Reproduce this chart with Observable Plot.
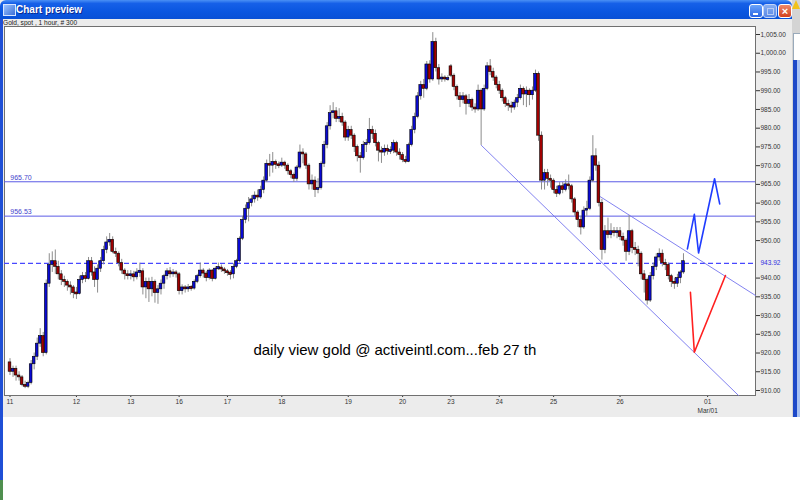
<!DOCTYPE html>
<html><head><meta charset="utf-8">
<script src="https://cdn.jsdelivr.net/npm/d3@7"></script>
<script src="https://cdn.jsdelivr.net/npm/@observablehq/plot@0.6"></script>
<style>
html,body{margin:0;padding:0;width:800px;height:500px;overflow:hidden;background:#fff;font-family:"Liberation Sans",Arial,sans-serif;}
#win{position:absolute;left:0;top:0;width:792px;height:417px;background:#ececec;}
#lframe{position:absolute;left:0;top:19px;width:3px;height:461px;background:#1f4fd6;}
#lgreen{position:absolute;left:0;top:480px;width:3px;height:20px;background:#4f8f4f;}
#title{position:absolute;left:0;top:0;width:792px;height:19px;border-radius:6px 6px 0 0;
 background:linear-gradient(#4a90f5 0%,#1660e8 18%,#0a56e0 60%,#0850d6 100%);}
#title span{position:absolute;left:16px;top:0;line-height:19px;color:#fff;font-weight:bold;font-size:10px;text-shadow:1px 1px 0 #0a2a90;}
#icon{position:absolute;left:3px;top:4px;width:11px;height:10px;background:linear-gradient(135deg,#9cc4ff,#3a6fd8);border:1px solid #d8e6ff;}
.btn{position:absolute;top:4px;width:12px;height:12px;border:1px solid #fff;border-radius:3px;}
#bmin{left:749px;background:linear-gradient(#6aa4fa,#2a64e4);}
#bmin:after{content:"";position:absolute;left:3px;top:8px;width:5px;height:2px;background:#fff;}
#bmax{left:763px;background:linear-gradient(#86aef2,#5a88e6);border-color:#c4d6fa;}
#bmax:after{content:"";position:absolute;left:3px;top:3px;width:5px;height:5px;border:1px solid #b8ccf4;}
#bclose{left:778px;background:linear-gradient(#ee8a6a,#d2401e);color:#fff;font:bold 11px "Liberation Sans",Arial,sans-serif;text-align:center;line-height:12px;}
#hdr{position:absolute;left:3px;top:19px;height:7px;line-height:7px;font-size:6.6px;color:#222;}
#desk{position:absolute;left:792px;top:0;width:8px;height:417px;background:#d4d4d4;}
#warn{position:absolute;left:792px;top:0;width:0;height:0;border-left:4px solid transparent;border-right:4px solid transparent;border-bottom:9px solid #f2c21a;}
#dbox{position:absolute;left:793px;top:33px;width:7px;height:27px;background:#fff;border:1px solid #9ab;border-right:none;}
#dbar{position:absolute;left:793px;top:60px;width:4px;height:357px;background:#1d48c8;}
#dbar2{position:absolute;left:797px;top:60px;width:3px;height:357px;background:#a9c2f2;}
#chart{position:absolute;left:0;top:0;}
</style></head><body>
<div id="win">
  <div id="title"><div id="icon"></div><span>Chart preview</span>
    <div class="btn" id="bmin"></div><div class="btn" id="bmax"></div><div class="btn" id="bclose">×</div></div>
  <div id="hdr">Gold, spot , 1 hour, # 300</div>
</div>
<div id="lframe"></div><div id="lgreen"></div>
<div id="desk"></div><div id="warn"></div><div id="dbox"></div><div id="dbar"></div><div id="dbar2"></div>
<div id="chart"></div>
<script>
// ---- Hourly gold candles (index = bar number) ----
const opens = [
917.5,915.0,915.8,914.0,913.5,911.5,911.0,912.0,917.0,919.0,
922.5,924.5,920.0,938.5,943.5,944.5,943.0,941.0,939.5,939.0,
938.0,937.5,936.0,935.8,939.5,940.5,939.8,944.5,941.5,939.5,
942.5,944.5,947.5,949.5,950.2,947.0,946.5,944.0,942.0,941.0,
940.5,941.0,940.2,941.5,941.8,937.5,939.0,937.0,939.0,936.0,
937.0,938.5,940.5,941.8,941.0,941.5,941.0,936.5,937.5,937.0,
937.5,937.2,939.0,940.5,942.0,941.2,940.0,942.0,939.8,942.5,
942.8,942.3,941.8,941.3,941.0,943.0,944.5,950.5,955.5,958.5,
960.0,961.0,962.0,961.5,963.5,966.0,970.5,970.0,971.0,970.2,
970.0,970.8,970.0,968.5,967.5,966.5,969.5,973.5,973.0,970.0,
965.0,966.0,963.5,964.0,970.5,975.5,980.5,984.0,984.5,982.5,
983.0,981.5,977.5,979.5,978.0,975.0,972.5,972.0,975.5,976.0,
979.5,978.5,976.0,974.0,973.5,974.5,973.8,974.0,976.0,973.5,
972.8,971.5,971.0,975.5,979.5,983.0,988.5,991.5,990.5,997.0,
993.0,1003.0,996.0,993.0,993.5,993.0,996.5,994.0,991.0,988.5,
987.5,988.5,986.5,987.5,985.5,985.0,990.0,985.0,990.5,996.5,
995.0,993.5,991.5,990.0,988.0,986.5,986.0,985.5,986.8,988.0,
990.5,989.0,990.0,988.8,990.0,994.5,978.0,966.0,968.0,966.5,
966.0,963.5,962.5,964.5,963.5,965.0,964.5,961.0,957.5,955.5,
953.5,958.0,958.5,966.0,972.5,970.0,960.0,947.5,952.5,951.5,
952.5,952.0,952.5,951.0,950.0,947.0,952.5,948.0,947.5,946.5,
941.0,939.5,934.0,940.5,943.0,945.5,946.5,944.0,943.5,940.5,
939.0,938.5,940.0,941.5];
const highs = [
918.5,916.5,916.5,915.0,914.0,912.5,912.5,918.0,920.0,924.0,
926.5,925.5,939.5,946.5,947.0,947.5,944.5,942.0,940.5,939.5,
939.0,938.0,937.5,940.5,941.5,941.5,945.5,945.5,943.0,943.5,
945.5,948.5,951.0,951.9,951.0,948.0,947.0,945.0,942.5,942.0,
942.0,941.8,942.5,944.0,942.5,940.0,940.0,940.2,939.5,938.0,
939.5,941.0,942.5,942.8,942.3,942.0,941.5,938.2,938.0,938.3,
938.0,939.5,941.0,944.0,942.5,941.8,942.5,942.3,943.0,944.0,
943.5,942.8,942.3,942.0,943.8,945.0,951.0,956.5,959.5,961.5,
962.0,963.0,963.5,964.5,967.0,971.5,973.0,973.5,971.5,971.0,
972.0,971.2,970.5,969.0,968.0,970.0,975.5,974.5,973.5,970.5,
967.5,967.0,966.5,971.0,976.5,981.5,986.0,986.8,985.5,985.2,
984.0,982.0,980.5,980.5,978.5,975.5,973.5,976.5,977.0,982.6,
980.5,979.5,976.5,975.0,975.5,975.5,975.0,976.8,976.5,974.5,
973.5,972.5,976.0,980.5,984.0,989.5,992.5,993.0,997.8,998.0,
1005.5,1004.0,997.0,994.5,994.0,994.0,997.0,994.5,991.5,989.5,
989.5,989.0,989.0,988.0,986.5,991.5,990.5,991.5,997.5,998.3,
996.0,994.0,992.5,990.5,988.5,987.5,987.0,987.5,989.0,991.5,
991.0,991.0,990.5,991.0,995.5,995.0,979.0,969.0,969.0,967.5,
966.5,964.5,965.5,965.5,966.2,967.5,965.0,961.5,958.0,956.5,
959.0,960.5,967.0,978.0,974.5,971.0,961.0,954.0,956.0,954.5,
953.5,953.5,953.5,952.0,950.5,956.7,953.0,949.5,948.5,947.0,
942.0,940.0,941.5,944.0,946.5,947.8,947.5,945.0,944.0,941.0,
940.0,941.0,942.0,946.5];
const lows = [
914.0,913.5,912.5,912.5,911.0,910.5,910.5,911.5,915.5,918.0,
921.5,919.0,919.5,937.5,941.5,941.0,939.5,938.0,937.5,936.5,
935.5,934.5,934.3,935.5,938.5,938.8,939.5,940.5,937.5,936.0,
941.5,943.5,946.5,948.5,946.5,945.5,943.0,941.0,939.5,939.5,
939.5,939.0,939.5,940.2,935.5,934.5,933.5,935.0,933.3,933.0,
935.5,937.0,939.5,940.0,940.2,940.0,935.5,935.5,936.0,936.2,
936.5,936.8,938.5,940.0,940.0,939.0,939.5,939.0,939.5,942.0,
941.5,941.0,940.5,939.5,939.8,942.5,944.0,950.0,954.5,955.0,
959.0,960.0,960.5,961.0,962.5,965.5,967.0,968.0,969.0,969.2,
969.5,969.0,967.5,966.5,965.5,965.8,969.0,970.5,969.0,963.5,
963.5,961.5,962.5,963.5,969.5,974.5,979.5,982.5,981.5,981.5,
980.5,976.5,976.5,977.0,973.5,971.0,968.0,971.5,973.5,975.5,
977.0,975.0,971.0,970.6,972.5,972.8,973.0,973.2,972.5,971.5,
970.8,970.5,970.8,975.0,978.5,982.5,987.5,988.0,990.0,992.0,
992.5,995.0,991.5,992.2,992.3,992.5,993.5,990.0,987.5,985.5,
986.5,983.5,985.5,984.5,984.0,984.5,975.4,984.5,990.0,994.0,
992.5,990.5,989.0,987.0,985.5,984.5,984.0,984.8,985.5,987.5,
986.0,985.5,986.0,987.5,989.5,976.5,963.5,963.5,964.5,964.0,
962.5,961.5,962.0,962.5,963.0,963.5,960.0,956.5,953.5,951.5,
953.0,956.5,958.0,965.5,968.5,959.0,944.8,946.5,950.5,950.5,
951.0,950.5,950.0,948.5,944.5,946.0,946.5,946.0,943.0,939.5,
936.0,932.8,933.5,939.5,942.0,944.5,943.0,942.0,939.5,937.5,
937.0,937.5,938.5,941.0];
const closes = [
915.0,915.8,914.0,913.5,911.5,911.0,912.0,917.0,919.0,922.5,
924.5,920.0,938.5,943.5,944.5,943.0,941.0,939.5,939.0,938.0,
937.5,936.0,935.8,939.5,940.5,939.8,944.5,941.5,939.5,942.5,
944.5,947.5,949.5,950.2,947.0,946.5,944.0,942.0,941.0,940.5,
941.0,940.2,941.5,941.8,937.5,939.0,937.0,939.0,936.0,937.0,
938.5,940.5,941.8,941.0,941.5,941.0,936.5,937.5,937.0,937.5,
937.2,939.0,940.5,942.0,941.2,940.0,942.0,939.8,942.5,942.8,
942.3,941.8,941.3,941.0,943.0,944.5,950.5,955.5,958.5,960.0,
961.0,962.0,961.5,963.5,966.0,970.5,970.0,971.0,970.2,970.0,
970.8,970.0,968.5,967.5,966.5,969.5,973.5,973.0,970.0,965.0,
966.0,963.5,964.0,970.5,975.5,980.5,984.0,984.5,982.5,983.0,
981.5,977.5,979.5,978.0,975.0,972.5,972.0,975.5,976.0,979.5,
978.5,976.0,974.0,973.5,974.5,973.8,974.0,976.0,973.5,972.8,
971.5,971.0,975.5,979.5,983.0,988.5,991.5,990.5,997.0,993.0,
1003.0,996.0,993.0,993.5,993.0,993.2,994.0,991.0,988.5,987.5,
988.5,986.5,987.5,985.5,985.0,990.0,985.0,990.5,996.5,995.0,
993.5,991.5,990.0,988.0,986.5,986.0,985.5,986.8,988.0,990.5,
989.0,990.0,988.8,990.0,994.5,978.0,966.0,968.0,966.5,966.0,
963.5,962.5,964.5,963.5,965.0,964.5,961.0,957.5,955.5,953.5,
958.0,958.5,966.0,972.5,970.0,960.0,947.5,952.5,951.5,952.5,
952.0,952.5,951.0,950.0,947.0,952.5,948.0,947.5,946.5,941.0,
939.5,934.0,940.5,943.0,945.5,946.5,944.0,943.5,940.5,939.0,
938.5,940.0,941.5,944.5];

// ---- Axis ticks ----
const dayTicks  = [0, 22, 40, 56, 72, 90, 112, 130, 146, 162, 180, 202, 231];
const dayLabels = ["11","12","13","16","17","18","19","20","23","24","25","26","01"];
const monthNote = "Mar/01";
const priceTicks = [910,915,920,925,930,935,940,950,955,960,965,970,975,980,985,990,995,1000,1005];

// ---- Drawn annotations (bar index, price) ----
const levels = [965.70, 956.53];
const dashedLevel = 943.92;
const lowerChannelX = [156.1, 241.2];
const lowerChannelY = [975.4, 908.7];
const upperChannelX = [195.5, 246.85];
const upperChannelY = [961.7, 935.35];
const blueZigX = [224.3, 226.6, 228.0, 233.3, 235.0];
const blueZigY = [947.8, 957.0, 946.7, 966.5, 959.8];
const redZigX = [225.3, 226.6, 236.9];
const redZigY = [936.2, 920.2, 940.7];
const note = "daily view gold @ activeintl.com...feb 27 th";
const noteAt = {i: 80.6, price: 920.8};

const xDomain = [-1.82, 246.85];
const yDomain = [908.666, 1007.135];

const candles = closes.map((c, i) => ({i, o: opens[i], h: highs[i], l: lows[i], c}));
const up = candles.filter(d => d.c >= d.o);
const down = candles.filter(d => d.c < d.o);
const bTop = d => Math.max(d.o, d.c) + (Math.abs(d.o - d.c) < 0.3 ? 0.15 : 0);
const bBot = d => Math.min(d.o, d.c) - (Math.abs(d.o - d.c) < 0.3 ? 0.15 : 0);
const pts = (xs, ys) => xs.map((x, k) => ({x, y: ys[k]}));
const fmt = d3.format(",.2f");
const bodyOpts = (fill) => ({x1: d => d.i - 0.45, x2: d => d.i + 0.45, y1: bBot, y2: bTop, fill, stroke: "#000", strokeWidth: 0.6});

const chart = Plot.plot({
  width: 800, height: 420,
  marginTop: 26, marginBottom: 25, marginLeft: 4, marginRight: 45,
  style: {background: "transparent", fontSize: "6.5px", fontFamily: "Liberation Sans, Arial, sans-serif", color: "#333", overflow: "visible"},
  x: {domain: xDomain, ticks: dayTicks, tickFormat: d => dayLabels[dayTicks.indexOf(d)], tickSize: 2, tickPadding: 2, label: null},
  y: {domain: yDomain, ticks: priceTicks, tickFormat: fmt, axis: "right", tickSize: 4, tickPadding: 1, label: null},
  marks: [
    Plot.frame({fill: "white", stroke: "#707070"}),
    Plot.ruleY(levels, {stroke: "#5b5be6", strokeWidth: 1}),
    Plot.ruleY([dashedLevel], {stroke: "#4848ff", strokeWidth: 1.4, strokeDasharray: "5,3"}),
    Plot.line(pts(lowerChannelX, lowerChannelY), {x: "x", y: "y", stroke: "#7474ee", strokeWidth: 0.9}),
    Plot.line(pts(upperChannelX, upperChannelY), {x: "x", y: "y", stroke: "#7474ee", strokeWidth: 0.9}),
    Plot.ruleX(candles, {x: "i", y1: "l", y2: "h", stroke: "#8c8c8c", strokeWidth: 1}),
    Plot.rect(up, bodyOpts("#0a0ad2")),
    Plot.rect(down, bodyOpts("#a00000")),
    Plot.line(pts(blueZigX, blueZigY), {x: "x", y: "y", stroke: "#1f3cff", strokeWidth: 1.6}),
    Plot.line(pts(redZigX, redZigY), {x: "x", y: "y", stroke: "#ff2020", strokeWidth: 1.6}),
    Plot.text(levels, {x: () => 0.1, y: d => d, text: d => d.toFixed(2), dy: -4, textAnchor: "start", fill: "#4444cc", fontSize: 7}),
    Plot.text([dashedLevel], {x: () => xDomain[1], y: d => d, text: d => d.toFixed(2), dx: 5, textAnchor: "start", fill: "#3030e0", fontSize: 6.5}),
    Plot.text([monthNote], {x: () => dayTicks[dayTicks.length - 1], y: () => yDomain[0], text: d => d, dy: 15, fill: "#333", fontSize: 6.5}),
    Plot.text([note], {x: () => noteAt.i, y: () => noteAt.price, text: d => d, textAnchor: "start", fill: "#000", fontSize: 15})
  ]
});
document.getElementById("chart").append(chart);
</script>
</body></html>
